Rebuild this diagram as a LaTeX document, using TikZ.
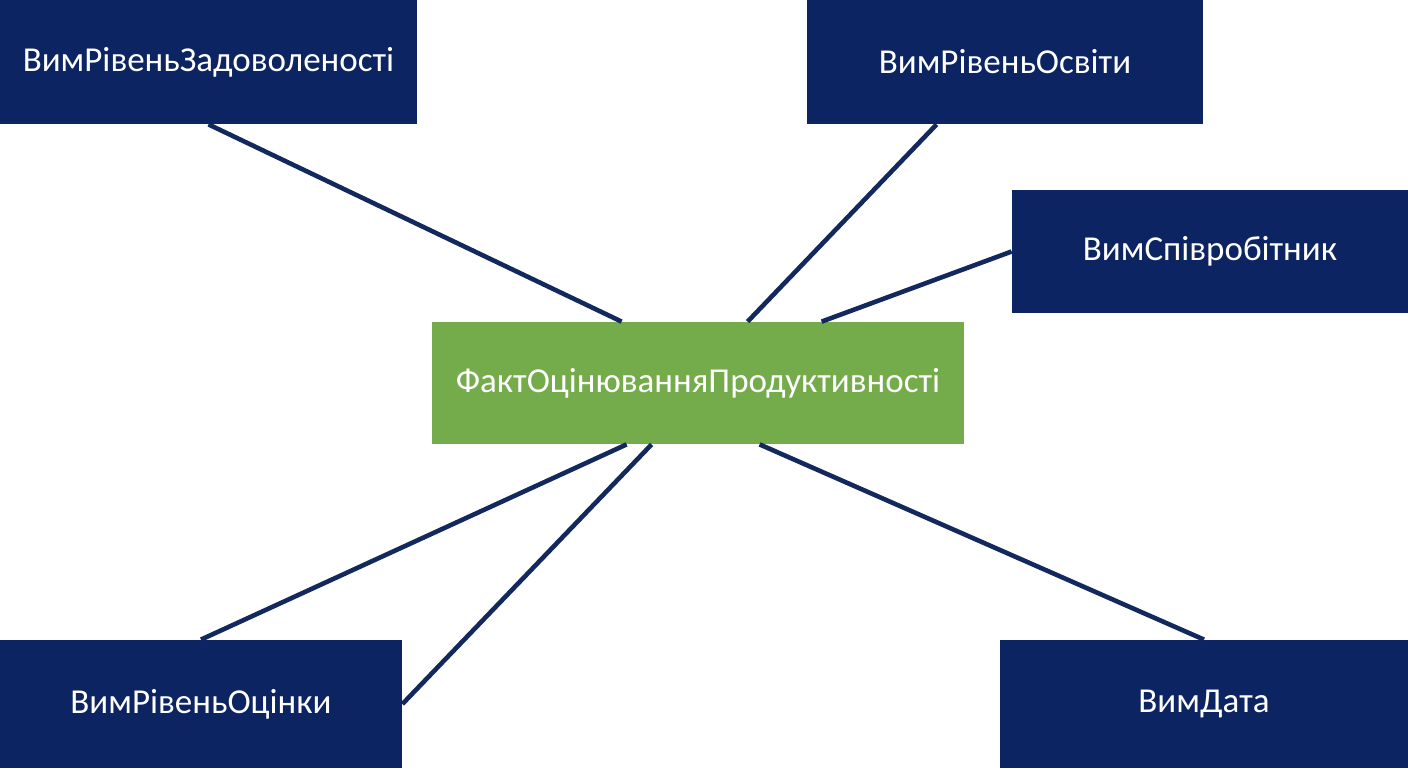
\documentclass[tikz,border=0pt]{standalone}
\usepackage{fontspec}
\setmainfont{Carlito}
\usepackage{tikz}

\definecolor{vimblue}{HTML}{0C2461}
\definecolor{linkblue}{HTML}{13285C}
\definecolor{factgreen}{HTML}{74AB4B}

\begin{document}
\begin{tikzpicture}[x=0.5pt, y=-0.5pt,
        vim/.style={fill=vimblue, text=white, inner sep=0pt, font=\fontsize{17.5}{21}\selectfont},
        fakt/.style={fill=factgreen, text=white, inner sep=0pt, font=\fontsize{17.5}{21}\selectfont},
        link/.style={draw=linkblue, line width=2.3pt}]
            \useasboundingbox (0,0) rectangle (1408,768);

            \node[vim, minimum width=208.5pt, minimum height=62pt] (zad) at (208.5,62) {ВимРівеньЗадоволеності};
            \node[vim, minimum width=198pt, minimum height=62pt] (osv) at (1005,62) {ВимРівеньОсвіти};
            \node[vim, minimum width=198pt, minimum height=61.5pt] (spiv) at (1210,251.5) {ВимСпівробітник};
            \node[fakt, minimum width=266pt, minimum height=61pt] (fact) at (698,383) {ФактОцінюванняПродуктивності};
            \node[vim, minimum width=201pt, minimum height=64pt] (ocin) at (201,704) {ВимРівеньОцінки};
            \node[vim, minimum width=204pt, minimum height=64pt] (data) at (1204,704) {ВимДата};

            \draw[link] (zad.south) -- ([xshift=95pt]fact.north west);
            \draw[link] ([xshift=65pt]osv.south west) -- ([xshift=158pt]fact.north west);
            \draw[link] (spiv.west) -- ([xshift=195pt]fact.north west);
            \draw[link] ([xshift=97.5pt]fact.south west) -- (ocin.north);
            \draw[link] ([xshift=110pt]fact.south west) -- (ocin.east);
            \draw[link] ([xshift=164pt]fact.south west) -- (data.north);
        \end{tikzpicture}
\end{document}
